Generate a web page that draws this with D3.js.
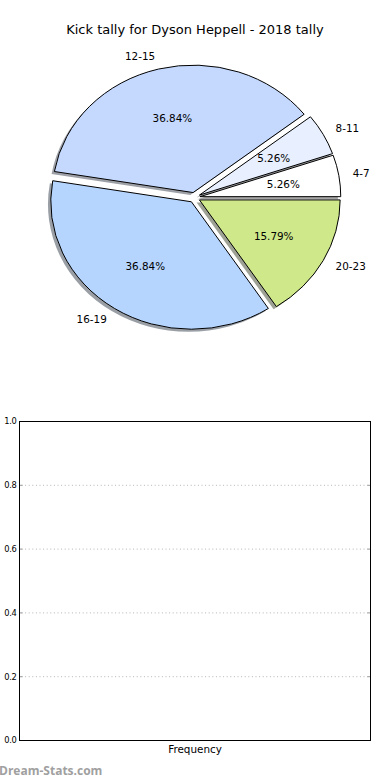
<!DOCTYPE html>
<html><head><meta charset="utf-8">
<script src="https://cdn.jsdelivr.net/npm/d3@7"></script>
<style>
body{margin:0;background:#fff;}
svg{display:block;font-family:"DejaVu Sans",sans-serif;}
</style></head>
<body>
<svg id="c" width="390" height="780"></svg>
<script>
const categories = ["4-7","8-11","12-15","16-19","20-23"];
const values = [1,1,7,7,3];
const colors = ["#ffffff","#e8f0ff","#c5d9ff","#b5d5ff","#cfe98a"];
const yTicks = [0,0.2,0.4,0.6,0.8,1.0];
const title = "Kick tally for Dyson Heppell - 2018 tally";
const xLabel = "Frequency";

(function(){
const svg = d3.select("#c");
svg.append("text").attr("x",195).attr("y",34).attr("text-anchor","middle")
  .attr("font-size",13).attr("fill","#000").text(title);

// pie (matplotlib style: starts at 3 o'clock, counter-clockwise, elliptical)
const cx=194.5, cy=197.5, sx=140.7, sy=127.5, explode=0.04;
const total = d3.sum(values);
const pie = d3.pie().sort(null).startAngle(Math.PI/2).endAngle(Math.PI/2-2*Math.PI);
const arcs = pie(values);
const arc = d3.arc().innerRadius(0).outerRadius(1);
const g = svg.append("g");
function off(d, k){ const m=(d.startAngle+d.endAngle)/2; return [Math.sin(m)*k, -Math.cos(m)*k]; }
arcs.forEach((d,i)=>{
  const [ox,oy]=off(d,explode);
  const c=d3.rgb(colors[i]);
  g.append("path").attr("d",arc(d))
   .attr("transform",`translate(${cx+(ox-0.02)*sx},${cy+(oy+0.02)*sy}) scale(${sx},${sy})`)
   .attr("fill",`rgb(${c.r*0.3},${c.g*0.3},${c.b*0.3})`)
   .attr("fill-opacity",0.5);
});
arcs.forEach((d,i)=>{
  const [ox,oy]=off(d,explode);
  g.append("path").attr("d",arc(d))
   .attr("transform",`translate(${cx+ox*sx},${cy+oy*sy}) scale(${sx},${sy})`)
   .attr("fill",colors[i]).attr("stroke","#000").attr("stroke-width",1)
   .attr("vector-effect","non-scaling-stroke").attr("stroke-linejoin","round");
});
arcs.forEach((d,i)=>{
  const [lx,ly]=off(d,1.1+explode);
  g.append("text").attr("x",cx+lx*sx).attr("y",cy+ly*sy).attr("dy","0.36em")
   .attr("text-anchor", lx>0?"start":"end").attr("font-size",10.4).text(categories[i]);
  const [px,py]=off(d,0.6+explode);
  g.append("text").attr("x",cx+px*sx).attr("y",cy+py*sy).attr("dy","0.36em")
   .attr("text-anchor","middle").attr("font-size",10.4)
   .text((values[i]/total*100).toFixed(2)+"%");
});

// empty bar axes
const pl=19.5, pr=370.5, pt=421.5, pb=740.5;
const y = d3.scaleLinear().domain([0,1]).range([pb,pt]);
const ax = svg.append("g");
ax.selectAll("line.grid").data(yTicks).enter().append("line").attr("class","grid")
  .attr("x1",pl+2).attr("x2",pr).attr("y1",d=>y(d)).attr("y2",d=>y(d))
  .attr("stroke","#b4b4b4").attr("stroke-width",1).attr("stroke-dasharray","1,2.6");
ax.selectAll("line.tl").data(yTicks).enter().append("line").attr("class","tl")
  .attr("x1",pl).attr("x2",pl+3).attr("y1",d=>y(d)).attr("y2",d=>y(d)).attr("stroke","#999");
ax.selectAll("line.tr").data(yTicks).enter().append("line").attr("class","tr")
  .attr("x1",pr-3).attr("x2",pr).attr("y1",d=>y(d)).attr("y2",d=>y(d)).attr("stroke","#999");
ax.append("rect").attr("x",pl).attr("y",pt).attr("width",pr-pl).attr("height",pb-pt)
  .attr("fill","none").attr("stroke","#000").attr("stroke-width",1);
ax.selectAll("text.yt").data(yTicks).enter().append("text").attr("class","yt")
  .attr("x",pl-3).attr("y",d=>y(d)).attr("dy","0.35em").attr("text-anchor","end")
  .attr("font-size",8.3).attr("letter-spacing","-0.3").text(d=>d.toFixed(1));
ax.append("text").attr("x",(pl+pr)/2).attr("y",752.5).attr("text-anchor","middle")
  .attr("font-size",10.4).text(xLabel);
svg.append("text").attr("x",-1).attr("y",775).attr("font-family","'Open Sans',sans-serif")
  .attr("font-weight","bold").attr("font-size",12).attr("fill","#a0a0a0").text("Dream-Stats.com");
})();
</script>
</body></html>
